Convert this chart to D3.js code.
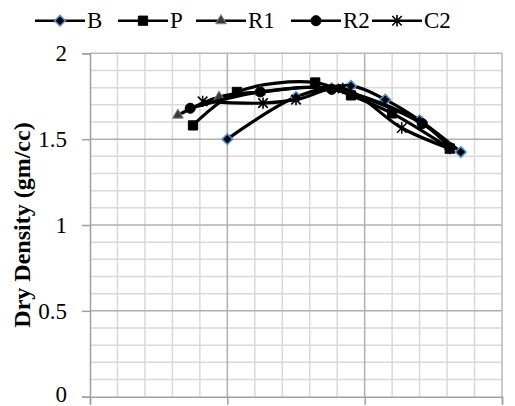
<!DOCTYPE html>
<html>
<head>
<meta charset="utf-8">
<script src="https://cdn.jsdelivr.net/npm/d3@7"></script>
<style>
  html, body { margin: 0; padding: 0; background: #fff; }
  svg { display: block; }
  text { font-family: "Liberation Serif", "Times New Roman", serif; fill: #000; }
</style>
</head>
<body>
<svg id="chart" width="515" height="406"></svg>
<script>
// Moisture content (%) and dry density (gm/cc) for each mix
const seriesNames = ["B", "P", "R1", "R2", "C2"];
const bMoisture  = [10, 12.5, 14.5, 15.75, 17, 18.5];
const bDensity   = [1.50, 1.745, 1.81, 1.73, 1.61, 1.425];
const pMoisture  = [8.75, 10.35, 13.2, 14.5, 16, 18.1];
const pDensity   = [1.58, 1.775, 1.83, 1.755, 1.65, 1.445];
const r1Moisture = [8.2, 9.7, 11.2, 13.8, 17.1, 18.1];
const r1Density  = [1.64, 1.745, 1.775, 1.795, 1.595, 1.45];
const r2Moisture = [8.65, 11.2, 13.8, 17.1, 18.1];
const r2Density  = [1.68, 1.775, 1.79, 1.59, 1.45];
const c2Moisture = [9.1, 11.3, 12.5, 14.2, 16.35, 18.1];
const c2Density  = [1.72, 1.71, 1.73, 1.795, 1.565, 1.445];

const yTicks = [0, 0.5, 1, 1.5, 2];
const yTickLabels = ["0", "0.5", "1", "1.5", "2"];
const yTitle = "Dry Density (gm/cc)";

const svg = d3.select("#chart");
const plotLeft = 90, plotRight = 502, plotTop = 53.3, plotBottom = 396.7;

const x = d3.scaleLinear().domain([5, 20]).range([plotLeft, plotRight]);
const y = d3.scaleLinear().domain([0, 2]).range([plotBottom, plotTop]);

// Grid: minor every 1 % / 0.1, major every 5 % / 0.5
const grid = svg.append("g");
const xMinor = d3.range(6, 20, 1).filter(v => v % 5 !== 0);
const yMinor = d3.range(1, 20).map(v => v / 10).filter(v => Math.round(v * 10) % 5 !== 0);
grid.selectAll(".vx").data(xMinor).join("line")
  .attr("x1", d => x(d)).attr("x2", d => x(d)).attr("y1", plotTop).attr("y2", plotBottom)
  .attr("stroke", "#d9d9d9").attr("stroke-width", 1.5);
grid.selectAll(".hy").data(yMinor).join("line")
  .attr("x1", plotLeft).attr("x2", plotRight).attr("y1", d => y(d)).attr("y2", d => y(d))
  .attr("stroke", "#d9d9d9").attr("stroke-width", 1.5);
grid.selectAll(".vX").data([10, 15]).join("line")
  .attr("x1", d => x(d)).attr("x2", d => x(d)).attr("y1", plotTop).attr("y2", plotBottom)
  .attr("stroke", "#b0b0b0").attr("stroke-width", 1.5);
grid.selectAll(".hY").data([0.5, 1, 1.5]).join("line")
  .attr("x1", plotLeft).attr("x2", plotRight).attr("y1", d => y(d)).attr("y2", d => y(d))
  .attr("stroke", "#b0b0b0").attr("stroke-width", 1.5);
// plot frame (top and right)
grid.append("line").attr("x1", plotLeft).attr("x2", plotRight).attr("y1", plotTop).attr("y2", plotTop)
  .attr("stroke", "#b8b8b8").attr("stroke-width", 1.5);
grid.append("line").attr("x1", plotRight).attr("x2", plotRight).attr("y1", plotTop).attr("y2", plotBottom)
  .attr("stroke", "#b8b8b8").attr("stroke-width", 1.5);

// Axes
const yAxis = svg.append("g").attr("transform", `translate(${plotLeft},0)`)
  .call(d3.axisLeft(y).tickValues(yTicks).tickFormat((d, i) => yTickLabels[i])
    .tickSize(8).tickPadding(15));
const xAxis = svg.append("g").attr("transform", `translate(0,${plotBottom})`)
  .call(d3.axisBottom(x).tickValues([5, 10, 15, 20]).tickFormat("").tickSize(8));
[yAxis, xAxis].forEach(a => {
  a.select(".domain").attr("stroke", "#a0a0a0").attr("stroke-width", 1.5);
  a.selectAll(".tick line").attr("stroke", "#a0a0a0").attr("stroke-width", 1.5);
});
yAxis.selectAll(".tick text")
  .style("font-family", '"Liberation Serif", "Times New Roman", serif')
  .style("font-size", "23px").attr("fill", "#000")
  .attr("dy", (d) => d === 0 ? "0.22em" : "0.32em");

svg.append("text")
  .attr("transform", `translate(30,${(plotTop + plotBottom) / 2}) rotate(-90)`)
  .attr("text-anchor", "middle")
  .style("font-size", "24px").style("font-weight", "bold")
  .text(yTitle);

// Marker shapes
const asterisk = {
  draw(ctx, size) {
    const r = Math.sqrt(size) / 2;
    ctx.moveTo(-r, -r); ctx.lineTo(r, r);
    ctx.moveTo(-r, r); ctx.lineTo(r, -r);
    ctx.moveTo(0, -r * 1.2); ctx.lineTo(0, r * 1.2);
  }
};
const squareDiamond = {
  draw(ctx, size) {
    const r = Math.sqrt(size / 2);
    ctx.moveTo(0, -r); ctx.lineTo(r, 0); ctx.lineTo(0, r); ctx.lineTo(-r, 0); ctx.closePath();
  }
};
const markerStyle = {
  B:  { type: squareDiamond,     size: 56, fill: "#000", stroke: "#4f8fd6", sw: 1.5 },
  P:  { type: d3.symbolSquare,   size: 85, fill: "#000", stroke: "#000", sw: 1 },
  R1: { type: d3.symbolTriangle, size: 50, fill: "#3a3a3a", stroke: "#8a8a8a", sw: 1 },
  R2: { type: d3.symbolCircle,   size: 80, fill: "#000", stroke: "#000", sw: 1 },
  C2: { type: asterisk,          size: 90, fill: "none", stroke: "#000", sw: 1.6 }
};

const seriesData = [
  [bMoisture, bDensity], [pMoisture, pDensity], [r1Moisture, r1Density],
  [r2Moisture, r2Density], [c2Moisture, c2Density]
].map(([mx, dy], i) => ({
  name: seriesNames[i],
  points: mx.map((m, j) => ({ m, d: dy[j] }))
}));

const line = d3.line().x(p => x(p.m)).y(p => y(p.d)).curve(d3.curveCatmullRom.alpha(0.5));

function marker(g, name, cx, cy) {
  const s = markerStyle[name];
  g.append("path")
    .attr("d", d3.symbol().type(s.type).size(s.size)())
    .attr("transform", `translate(${cx},${cy})`)
    .attr("fill", s.fill).attr("stroke", s.stroke).attr("stroke-width", s.sw);
}

seriesData.forEach(s => {
  const g = svg.append("g");
  g.append("path").attr("d", line(s.points))
    .attr("fill", "none").attr("stroke", "#000").attr("stroke-width", 3.2)
    .attr("stroke-linejoin", "round");
  s.points.forEach(p => marker(g, s.name, x(p.m), y(p.d)));
});

// Legend
const legendX = [35, 118, 196, 291, 372];
const legend = svg.append("g");
seriesNames.forEach((name, i) => {
  const lx = legendX[i], ly = 20.7;
  legend.append("line").attr("x1", lx).attr("x2", lx + 50).attr("y1", ly).attr("y2", ly)
    .attr("stroke", "#000").attr("stroke-width", 2.5);
  marker(legend, name, lx + 25, ly);
  legend.append("text").attr("x", lx + 52).attr("y", ly + 7.5)
    .style("font-size", "23px").text(name);
});
</script>
</body>
</html>
